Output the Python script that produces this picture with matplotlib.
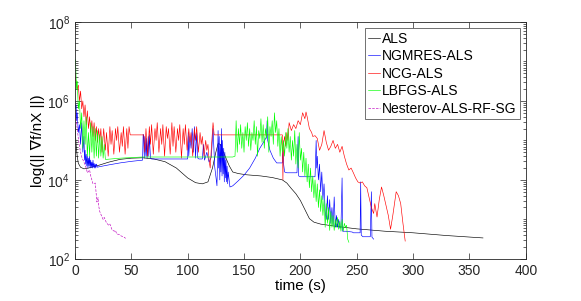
import numpy as np
import matplotlib
matplotlib.use("Agg")
import matplotlib.pyplot as plt
from matplotlib.ticker import LogLocator, NullFormatter, FixedLocator

plt.rcParams['font.family'] = ['Liberation Sans', 'DejaVu Sans']
plt.rcParams['mathtext.fontset'] = 'custom'
plt.rcParams['mathtext.rm'] = 'Liberation Sans'

# ALS (time in s, log10 of gradient norm)
als_t = [0, 1, 2, 3, 5, 8, 12, 20, 30, 40, 50, 60, 70, 80, 90, 100, 107, 113, 118, 122,
         125, 127, 129, 131, 134, 137, 140, 145, 152, 165, 175, 184, 188, 192, 196, 200,
         204, 208, 212, 218, 223, 230, 250, 275, 300, 330, 362]
als_log = [5.4, 4.9, 4.6, 4.42, 4.32, 4.28, 4.3, 4.36, 4.45, 4.52, 4.55, 4.56, 4.53, 4.46,
           4.3, 4.05, 3.93, 3.9, 3.95, 4.3, 4.7, 4.92, 4.9, 4.75, 4.55, 4.35, 4.2, 4.16,
           4.13, 4.1, 4.06, 4.0, 3.92, 3.78, 3.65, 3.48, 3.25, 3.02, 2.93, 2.88, 2.86, 2.83,
           2.76, 2.7, 2.66, 2.59, 2.53]

# NGMRES-ALS
ngmres_t = [0, 0.5, 1, 1.5, 2, 3, 4, 5, 6, 7, 8, 8.5, 9, 9.5, 10, 10.5, 11, 11.5, 12, 12.5,
            13, 13.5, 14, 14.5, 15, 15.5, 16, 16.5, 17, 17.5, 18, 18.5, 19, 20, 21, 30, 40,
            50, 60, 60.5, 61, 61.5, 62, 63, 63.5, 64, 65, 65.5, 66, 67, 68, 100, 100.5, 101,
            102, 103, 104, 105, 106, 107, 108, 109, 110, 113, 114, 115, 117, 119, 121, 122.5,
            124, 126, 127, 127.5, 128, 128.5, 129, 129.5, 130, 130.5, 131, 131.5, 132, 132.5,
            133, 133.5, 134, 134.5, 135, 135.5, 136, 137.5, 140, 145, 150, 155, 160, 164, 167,
            170, 170.5, 171, 173, 176, 179, 184, 184.5, 185, 186, 188, 197, 198, 198.5, 200,
            213, 214, 214.5, 215, 216, 217, 218, 219, 220, 221, 222, 223, 224, 225, 226, 227,
            228, 229, 230, 231, 232, 233, 234, 235, 236, 237, 237.5, 240, 246, 247, 253, 253.5,
            254, 255.5, 262, 263, 263.5, 265]
ngmres_log = [6.0, 5.8, 5.9, 5.5, 5.7, 5.2, 5.4, 4.9, 5.45, 4.7, 5.1, 4.5, 4.75, 4.4, 4.65,
              4.35, 4.6, 4.3, 4.55, 4.35, 4.6, 4.3, 4.5, 4.32, 4.45, 4.3, 4.5, 4.32, 4.42, 4.3,
              4.4, 4.3, 4.4, 4.32, 4.33, 4.38, 4.43, 4.47, 4.5, 5.15, 5.1, 4.55, 5.1, 4.6, 5.05,
              4.55, 5.1, 4.6, 5.15, 4.55, 4.53, 4.53, 5.2, 4.6, 5.1, 4.8, 5.3, 4.7, 5.35, 4.55,
              5.2, 4.55, 4.53, 4.53, 4.9, 4.5, 4.7, 4.45, 4.58, 5.3, 4.33, 3.85, 5.25, 4.3, 5.1,
              4.0, 4.9, 4.2, 5.3, 4.1, 5.0, 4.15, 4.8, 3.95, 4.7, 4.05, 4.5, 3.95, 4.35, 3.9,
              4.2, 3.82, 3.85, 3.98, 4.12, 4.3, 4.55, 4.8, 4.94, 5.09, 5.5, 5.0, 4.75, 4.55,
              4.43, 4.43, 4.76, 4.43, 4.2, 4.18, 4.18, 5.1, 4.1, 4.08, 4.08, 5.0, 4.3, 4.6, 4.0,
              4.4, 3.7, 4.2, 3.5, 3.9, 3.2, 3.0, 3.6, 3.0, 3.5, 2.9, 3.3, 2.85, 3.57, 2.8, 3.1,
              2.8, 3.0, 2.78, 2.8, 4.05, 2.7, 2.7, 2.68, 2.66, 2.66, 3.95, 2.6, 2.56, 2.56, 3.7,
              2.55, 2.5]

# NCG-ALS
ncg_t = [0, 0.5, 1, 2, 3, 4, 5, 6, 7, 8, 9, 10, 11, 12, 13, 14, 15, 16, 17, 18, 19, 20, 21,
         22, 23, 24, 25.5, 27, 28, 29.5, 31, 32, 33, 34.5, 36, 37, 38, 39.5, 41, 42, 43, 44.5,
         46, 47, 48, 49, 61, 62, 63, 64.5, 66, 67, 68, 69.5, 71, 72, 73, 74.5, 76, 77, 78,
         79.5, 81, 82, 83, 84.5, 86, 87, 88, 89.5, 91, 92, 93, 94.5, 96, 97, 98, 99.5, 101,
         102, 103, 104.5, 106, 107, 108, 109.5, 111, 112, 113, 114.5, 116, 117, 118, 119, 120,
         121, 122.5, 123.5, 184, 184.5, 185, 186, 187, 188, 189, 190, 192, 194, 196, 198, 200,
         202, 204, 205, 206, 208, 210, 211, 213, 215, 217, 219, 221, 223, 225, 227, 229, 231,
         233, 235, 237, 239, 241, 243, 245, 247, 249, 251, 253, 255, 257, 259, 261, 263, 265,
         266, 268, 270, 272, 274, 276, 278, 280, 282, 284, 285, 287, 289, 291, 293]
ncg_log = [6.7, 6.55, 6.5, 6.3, 6.4, 6.0, 6.25, 5.8, 6.0, 5.6, 5.9, 5.4, 5.75, 5.3, 5.6, 5.2,
           5.5, 5.1, 5.45, 5.0, 5.35, 4.95, 5.3, 5.0, 5.3, 4.7, 5.3, 4.75, 5.2, 4.6, 5.35, 4.9,
           5.25, 4.65, 5.3, 5.0, 5.35, 4.7, 5.2, 4.85, 5.35, 4.65, 5.3, 4.8, 5.35, 5.14, 5.14,
           4.7, 5.3, 4.6, 5.35, 4.9, 5.4, 4.65, 5.3, 5.0, 5.45, 4.7, 5.3, 4.9, 5.4, 4.6, 5.35,
           5.05, 5.3, 4.65, 5.45, 4.85, 5.35, 4.7, 5.3, 5.0, 5.4, 4.55, 5.3, 4.9, 5.4, 4.75,
           5.3, 4.95, 5.2, 4.6, 5.3, 5.0, 5.35, 4.7, 5.2, 4.9, 5.1, 4.6, 5.0, 4.75, 4.9, 4.5,
           4.3, 4.8, 5.45, 5.14, 5.14, 4.0, 4.9, 5.1, 4.85, 5.2, 5.0, 5.45, 5.25, 5.4, 5.3,
           5.5, 5.4, 5.7, 5.55, 5.72, 5.6, 5.3, 5.2, 5.1, 5.12, 5.05, 4.75, 4.9, 5.25, 4.95,
           4.75, 4.85, 5.0, 4.8, 4.9, 4.7, 4.85, 4.6, 4.4, 4.25, 4.3, 4.18, 4.05, 3.95, 3.92,
           3.95, 3.85, 3.8, 3.55, 3.3, 3.15, 3.4, 3.06, 3.5, 3.82, 3.6, 3.35, 3.1, 2.75, 3.1,
           3.5, 3.7, 3.6, 3.4, 2.9, 2.45]

# LBFGS-ALS
lbfgs_t = [0, 0.5, 1, 1.5, 2, 3, 4, 5, 6, 7, 8, 9, 10, 11, 12, 13, 14, 15, 16, 17, 18, 19,
           20, 21, 22, 23, 24, 25, 26, 27, 28, 40, 60, 100, 140, 142, 143, 144, 145, 146, 147,
           148, 149, 150, 151, 152, 153, 154, 155, 156, 157, 158, 159, 160, 161, 162, 163, 164,
           165, 166, 167, 168, 169, 170, 171, 172, 173, 174, 175, 176, 177, 178, 179, 180, 181,
           182, 183, 184, 185, 186, 187, 188, 189, 190, 191, 192, 193, 194, 195, 196, 197, 198,
           199, 200, 201, 202, 203, 204, 205, 206, 207, 208, 209, 210, 211, 212, 213, 214, 215,
           216, 217, 218, 219, 220, 221, 222, 223, 224, 225, 226, 227, 228, 229, 230, 231, 232,
           233, 234, 235, 236, 237, 238, 239, 240, 241, 242, 243]
lbfgs_log = [7.0, 7.05, 6.6, 6.3, 6.5, 5.8, 6.0, 5.3, 5.7, 4.8, 5.5, 4.9, 5.6, 4.6, 5.2, 4.6,
             5.45, 4.7, 5.35, 4.55, 5.3, 4.6, 5.25, 4.55, 5.15, 4.6, 5.1, 4.55, 4.9, 4.52,
             4.52, 4.55, 4.58, 4.58, 4.58, 4.6, 5.5, 4.7, 5.3, 4.9, 5.4, 4.8, 5.2, 4.7, 5.35,
             5.0, 5.45, 4.85, 5.3, 4.75, 5.2, 5.0, 5.5, 4.9, 5.35, 4.6, 5.25, 5.05, 5.55, 4.95,
             5.4, 4.8, 5.3, 5.05, 5.6, 4.7, 5.35, 5.1, 5.5, 4.9, 5.7, 5.2, 5.5, 4.85, 5.3, 4.6,
             5.1, 4.7, 5.0, 4.6, 5.2, 4.8, 5.3, 4.7, 5.1, 4.5, 5.0, 4.6, 5.25, 4.4, 4.9, 4.3,
             5.2, 4.5, 4.8, 4.2, 4.7, 4.1, 4.55, 3.95, 4.4, 3.8, 4.3, 3.7, 4.1, 3.55, 4.0, 3.45,
             3.9, 3.3, 3.75, 3.2, 3.6, 3.1, 3.5, 2.8, 3.4, 2.9, 3.3, 2.72, 3.2, 2.8, 3.1, 2.72,
             3.0, 2.8, 3.05, 2.75, 2.95, 2.7, 3.0, 2.7, 2.9, 2.8, 2.85, 2.5, 2.42]

# Nesterov-ALS-RF-SG
nest_t = [0, 1, 2, 3, 4, 5, 6, 8, 10, 11, 13, 14, 16, 18, 19, 19.5, 20.5, 21, 22, 24, 25, 26,
          28, 30, 31, 33, 35, 36, 37, 39, 41, 43, 45]
nest_log = [5.75, 5.5, 5.3, 5.05, 4.85, 4.7, 4.58, 4.45, 4.3, 4.18, 4.25, 4.1, 3.9, 3.92, 3.6,
            3.44, 3.55, 3.35, 3.2, 3.06, 3.0, 3.05, 2.91, 2.85, 2.88, 2.73, 2.7, 2.72, 2.63,
            2.62, 2.58, 2.56, 2.52]

fig = plt.figure(figsize=(5.81, 3.01), dpi=100)
ax = fig.add_axes([0.129, 0.14, 0.776, 0.787])

lw = 0.45
ax.semilogy(als_t, 10 ** np.array(als_log), color='k', lw=lw, label='ALS')
ax.semilogy(ngmres_t, 10 ** np.array(ngmres_log), color='b', lw=lw, label='NGMRES-ALS')
ax.semilogy(ncg_t, 10 ** np.array(ncg_log), color='r', lw=lw, label='NCG-ALS')
ax.semilogy(lbfgs_t, 10 ** np.array(lbfgs_log), color='#00ff00', lw=lw, label='LBFGS-ALS')
ax.semilogy(nest_t, 10 ** np.array(nest_log), color='m', lw=lw, ls=(0, (4, 2)),
            label='Nesterov-ALS-RF-SG')

ax.set_xlim(0, 400)
ax.set_ylim(1e2, 1e8)
ax.xaxis.set_major_locator(FixedLocator(np.arange(0, 401, 50)))
ax.yaxis.set_major_locator(FixedLocator([1e2, 1e4, 1e6, 1e8]))
ax.yaxis.set_minor_locator(LogLocator(base=10, subs=np.arange(1, 10), numticks=20))
ax.yaxis.set_minor_formatter(NullFormatter())
ax.yaxis.set_major_formatter(matplotlib.ticker.LogFormatterSciNotation())

ax.tick_params(which='both', direction='in', top=True, right=True, labelsize=10,
               colors='0.15', width=0.5)
ax.tick_params(which='major', length=4)
ax.tick_params(which='minor', length=2)
for s in ax.spines.values():
    s.set_linewidth(0.6)
    s.set_color('0.15')

ax.set_xlabel('time (s)', fontsize=11, labelpad=1)
ax.set_ylabel('log(|| \u2207f/nX ||)', fontsize=11, labelpad=2)

leg = ax.legend(loc='upper right', fontsize=10, handlelength=0.85, handletextpad=0.1,
                labelspacing=0.25, borderpad=0.25, borderaxespad=0.45, fancybox=False,
                framealpha=1)
leg.get_frame().set_edgecolor('0.35')
leg.get_frame().set_linewidth(0.6)

fig.savefig('out.png', dpi=100)
